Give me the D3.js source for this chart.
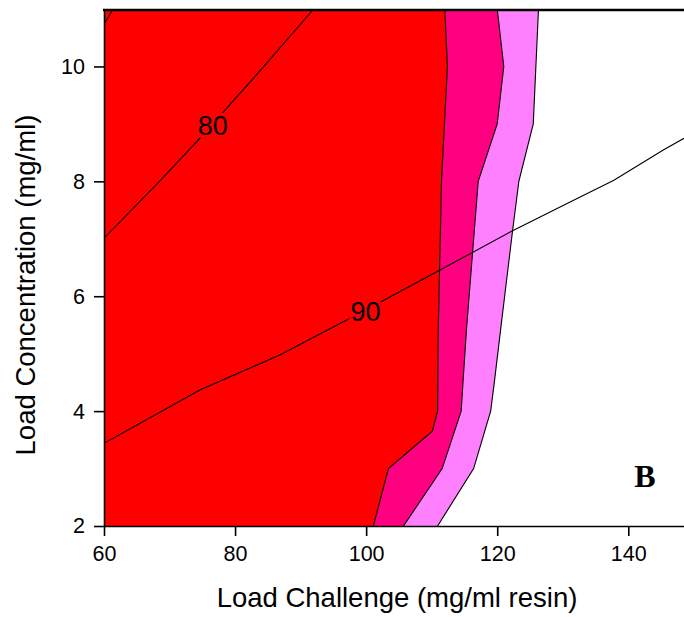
<!DOCTYPE html>
<html>
<head>
<meta charset="utf-8">
<script src="https://cdn.jsdelivr.net/npm/d3@7"></script>
<style>
  body { margin: 0; background: #fff; }
  text { font-family: "Liberation Sans", Arial, sans-serif; }
</style>
</head>
<body>
<div id="chart"></div>
<script>
// region edges: [load concentration, load challenge]
const redEdge = [[2, 101.1], [3, 103.4], [3.65, 110.1], [4, 110.9], [5.4, 111.0], [8, 111.5], [10, 112.4], [11, 112.0]];
const pinkEdge = [[2, 105.7], [3, 111.6], [4, 114.5], [4.54, 114.8], [5.41, 115.3], [8, 117.1], [9, 120.0], [10, 121.0], [11, 120.0]];
const lightEdge = [[2, 110.9], [3, 116.4], [4, 119.0], [4.54, 119.6], [5.4, 120.5], [7.1, 122.3], [8, 123.3], [9, 125.5], [11, 126.3]];

// contour lines: [load challenge, load concentration]
const line70 = [[60, 10.74], [61.4, 11]];
const line80 = [[60, 7.01], [68.4, 7.99], [74.3, 8.71], [78.7, 9.27], [84.4, 10.0], [92.0, 11]];
const line90 = [[60, 3.44], [74.7, 4.37], [86.9, 4.98], [97.6, 5.62], [102.2, 5.9], [111.35, 6.46], [122.5, 7.15], [130.2, 7.59], [137.8, 8.02], [145.4, 8.55], [148.5, 8.75]];
const contourLabels = [{ text: "80", x: 76.6, y: 8.98 }, { text: "90", x: 99.9, y: 5.74 }];

const xTicks = [60, 80, 100, 120, 140];
const yTicks = [2, 4, 6, 8, 10];

const W = 684, H = 617;
const mLeft = 104, mRight = 684, mTop = 9, mBottom = 526;

const svg = d3.select("#chart").append("svg")
  .attr("width", W)
  .attr("height", H);

const x = d3.scaleLinear().domain([60, 148.5]).range([mLeft, mRight]);
const y = d3.scaleLinear().domain([2, 11]).range([mBottom, mTop]);

svg.append("clipPath").attr("id", "plot")
  .append("rect")
  .attr("x", mLeft).attr("y", mTop)
  .attr("width", mRight - mLeft).attr("height", mBottom - mTop);

const g = svg.append("g").attr("clip-path", "url(#plot)");

// fill each band from the left edge, widest first
const band = d3.area()
  .y(d => y(d[0]))
  .x0(x(60))
  .x1(d => x(d[1]));

const edge = d3.line()
  .x(d => x(d[1]))
  .y(d => y(d[0]));

[[lightEdge, "#ff80ff"], [pinkEdge, "#ff0080"], [redEdge, "#ff0000"]].forEach(([data, col]) => {
  g.append("path").datum(data)
    .attr("d", band)
    .attr("fill", col);
});

[lightEdge, pinkEdge, redEdge].forEach(data => {
  g.append("path").datum(data)
    .attr("d", edge)
    .attr("fill", "none")
    .attr("stroke", "#000")
    .attr("stroke-width", 1.1);
});

const contour = d3.line()
  .x(d => x(d[0]))
  .y(d => y(d[1]));

[line70, line80, line90].forEach(data => {
  g.append("path").datum(data)
    .attr("d", contour)
    .attr("fill", "none")
    .attr("stroke", "#000")
    .attr("stroke-width", 1.1);
});

g.selectAll(".clabel")
  .data(contourLabels)
  .enter().append("text")
  .attr("class", "clabel")
  .attr("x", d => x(d.x))
  .attr("y", d => y(d.y))
  .attr("dy", "0.36em")
  .attr("text-anchor", "middle")
  .attr("font-size", 27)
  .attr("fill", "#000")
  .attr("stroke", "#ff0000")
  .attr("stroke-width", 7)
  .attr("paint-order", "stroke")
  .text(d => d.text);

// axes
const xAxis = svg.append("g")
  .attr("transform", `translate(0,${mBottom})`)
  .call(d3.axisBottom(x).tickValues(xTicks).tickSize(10).tickPadding(10).tickSizeOuter(0));
const yAxis = svg.append("g")
  .attr("transform", `translate(${mLeft},0)`)
  .call(d3.axisLeft(y).tickValues(yTicks).tickSize(10).tickPadding(9).tickSizeOuter(0));

[xAxis, yAxis].forEach(a => {
  a.select(".domain").attr("stroke-width", 1.6);
  a.selectAll(".tick line").attr("stroke-width", 1.6);
  a.selectAll(".tick text")
    .attr("font-size", 21.5)
    .attr("font-family", "Liberation Sans, Arial, sans-serif")
    .attr("fill", "#000");
});

// top border
svg.append("line")
  .attr("x1", mLeft - 1).attr("x2", mRight)
  .attr("y1", mTop + 1).attr("y2", mTop + 1)
  .attr("stroke", "#000")
  .attr("stroke-width", 2.5);

svg.append("text")
  .attr("x", 397)
  .attr("y", 607)
  .attr("text-anchor", "middle")
  .attr("font-size", 27.5)
  .text("Load Challenge (mg/ml resin)");

svg.append("text")
  .attr("transform", "translate(35,285) rotate(-90)")
  .attr("text-anchor", "middle")
  .attr("font-size", 27.5)
  .text("Load Concentration (mg/ml)");

svg.append("text")
  .attr("x", 645)
  .attr("y", 487)
  .attr("text-anchor", "middle")
  .attr("font-size", 32)
  .attr("font-weight", "bold")
  .style("font-family", "'Liberation Serif', 'Times New Roman', serif")
  .text("B");
</script>
</body>
</html>
